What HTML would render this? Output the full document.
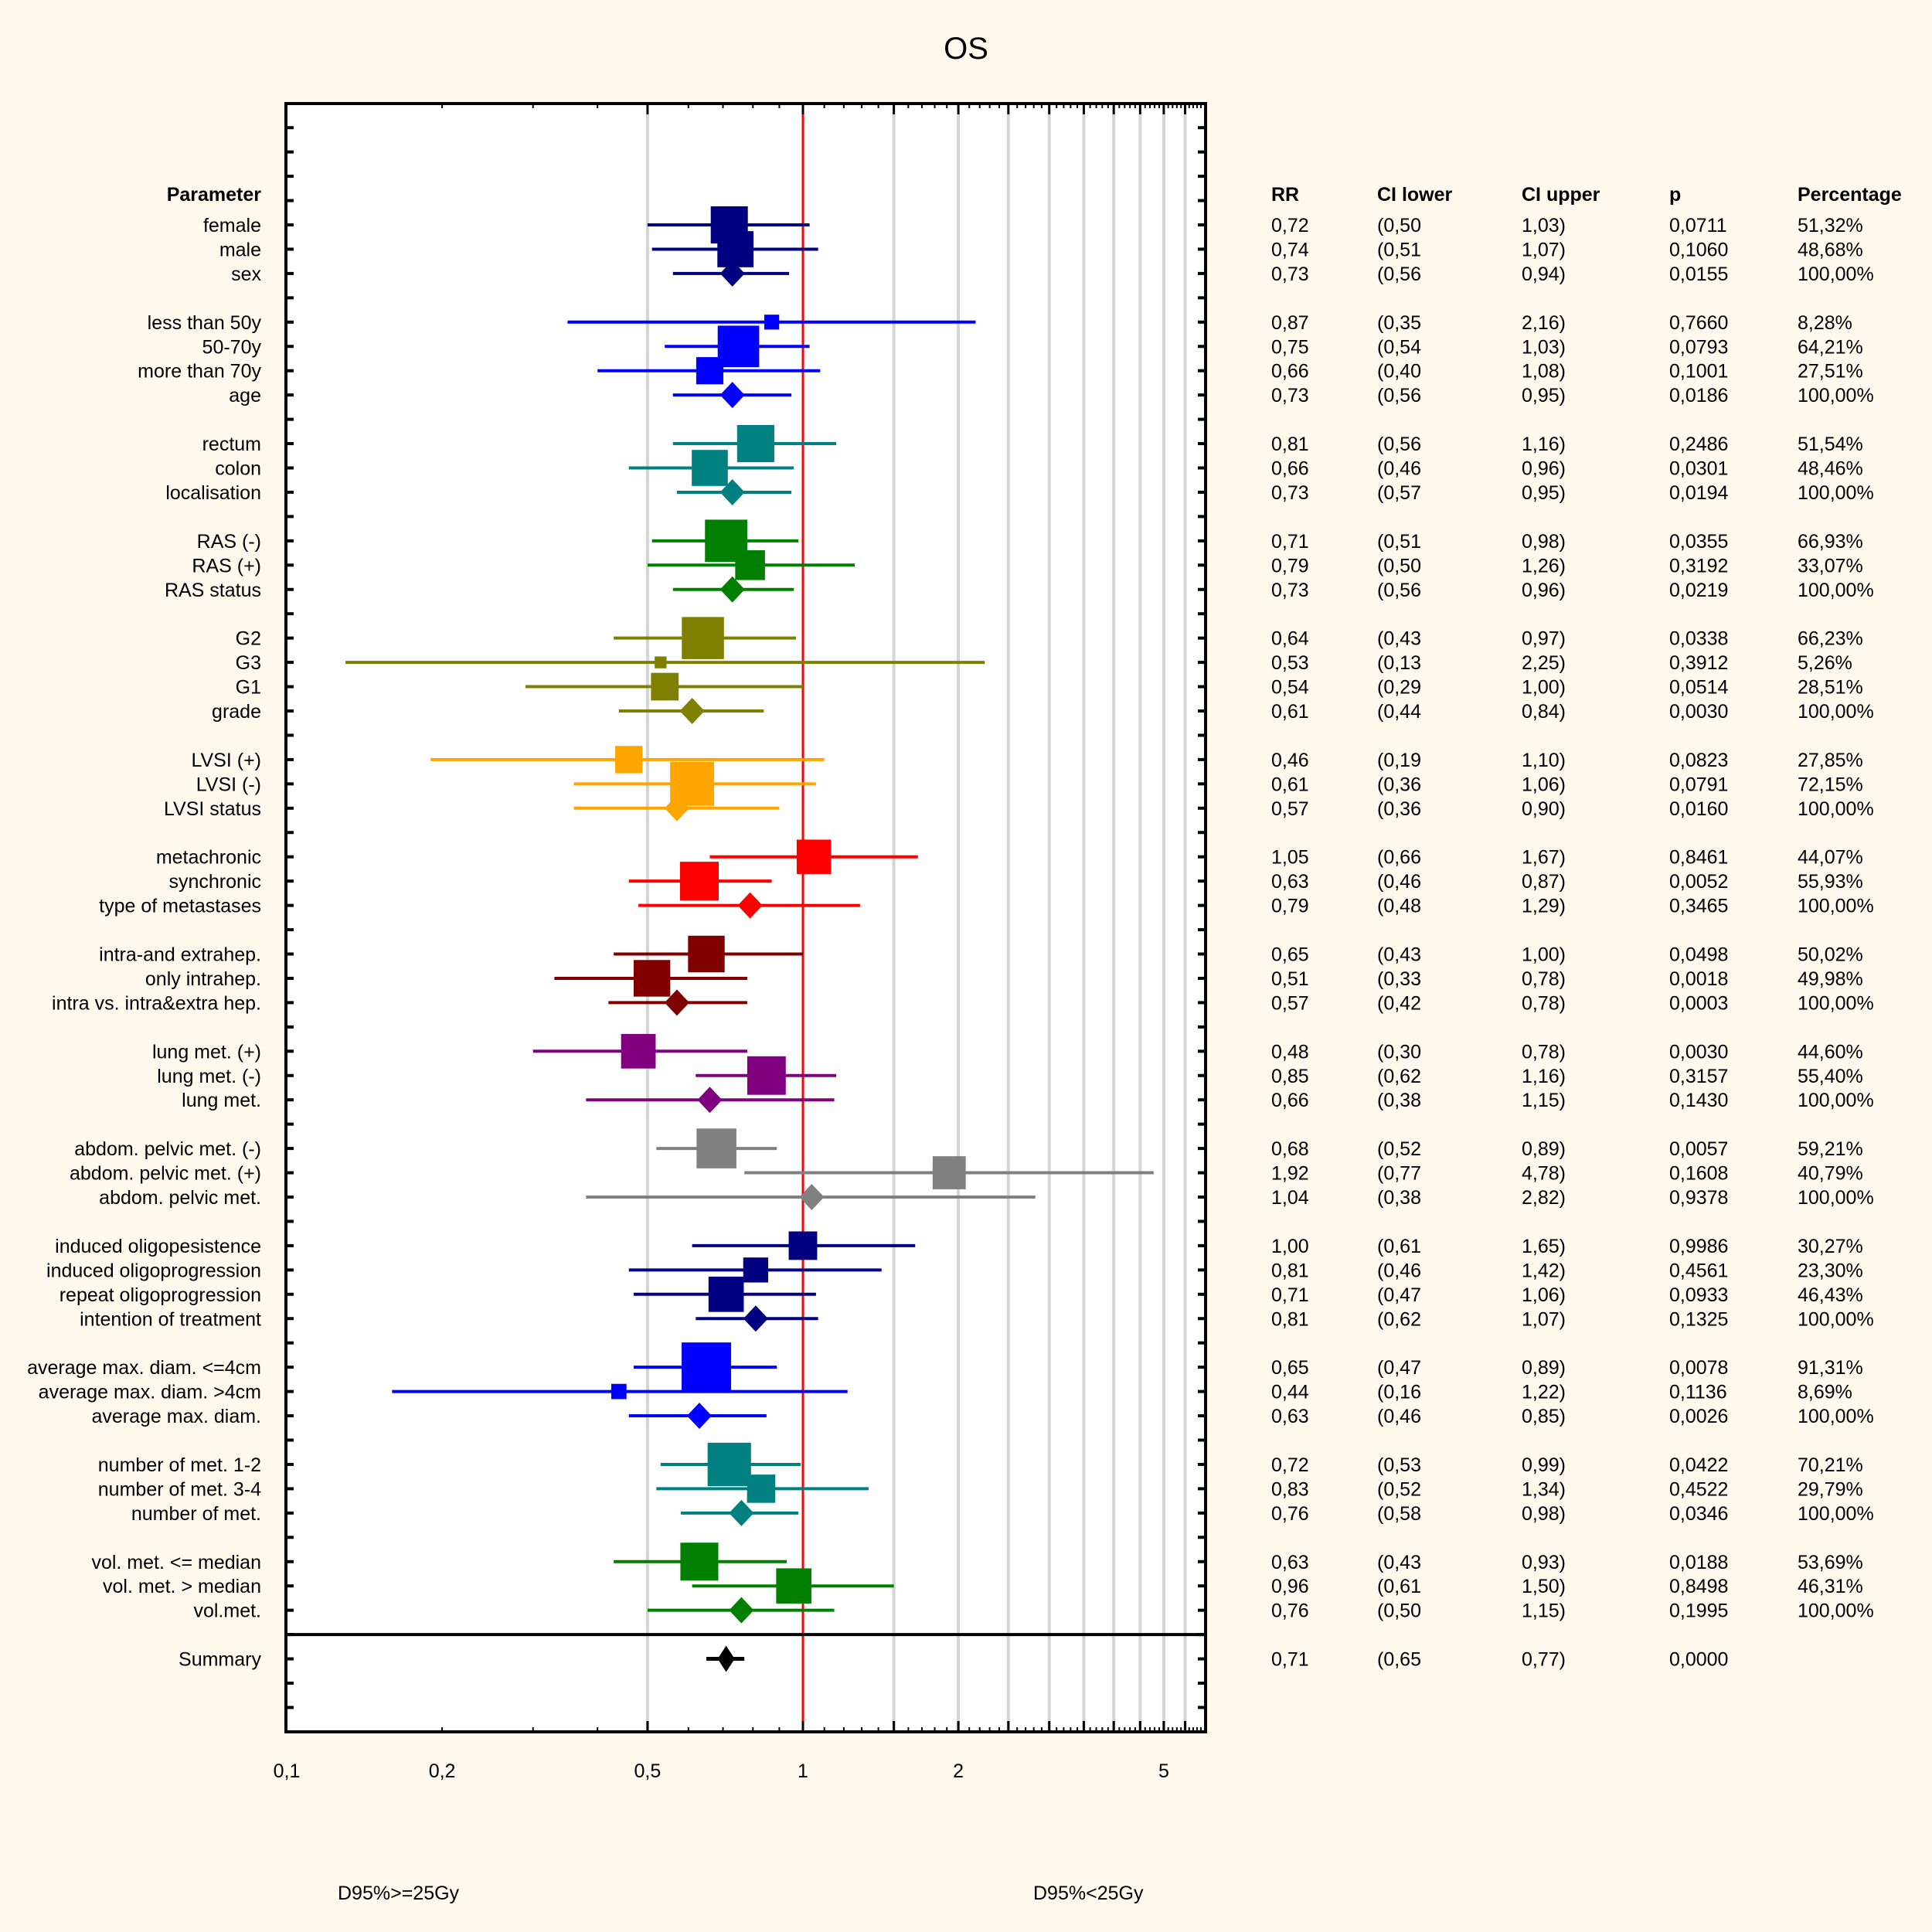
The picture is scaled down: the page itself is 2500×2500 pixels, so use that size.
<!DOCTYPE html>
<html><head><meta charset="utf-8">
<style>
html,body{margin:0;padding:0;background:#fef9ec;}
svg{display:block;font-family:"Liberation Sans",Arial,sans-serif;}
</style></head>
<body>
<svg id="chart" width="2500" height="2500" viewBox="0 0 2500 2500" xmlns="http://www.w3.org/2000/svg">
<rect x="0" y="0" width="2500" height="2500" fill="#fef9ec"/>
<text x="1250" y="76" font-size="40" text-anchor="middle">OS</text>
<rect x="370" y="134" width="1190" height="2107" fill="#ffffff"/>
<g id="grid"></g>
<g id="marks"></g>
<g id="axes"></g>
<g id="texts"></g>
<text x="437" y="2458" font-size="25">D95%&gt;=25Gy</text>
<text x="1337" y="2458" font-size="25">D95%&lt;25Gy</text>
</svg>
<script>
const labels = ["female","male","sex",null,"less than 50y","50-70y","more than 70y","age",null,"rectum","colon","localisation",null,"RAS (-)","RAS (+)","RAS status",null,"G2","G3","G1","grade",null,"LVSI (+)","LVSI (-)","LVSI status",null,"metachronic","synchronic","type of metastases",null,"intra-and extrahep.","only intrahep.","intra vs. intra&extra hep.",null,"lung met. (+)","lung met. (-)","lung met.",null,"abdom. pelvic met. (-)","abdom. pelvic met. (+)","abdom. pelvic met.",null,"induced oligopesistence","induced oligoprogression","repeat oligoprogression","intention of treatment",null,"average max. diam. <=4cm","average max. diam. >4cm","average max. diam.",null,"number of met. 1-2","number of met. 3-4","number of met.",null,"vol. met. <= median","vol. met. > median","vol.met."];
const rr = [0.72,0.74,0.73,null,0.87,0.75,0.66,0.73,null,0.81,0.66,0.73,null,0.71,0.79,0.73,null,0.64,0.53,0.54,0.61,null,0.46,0.61,0.57,null,1.05,0.63,0.79,null,0.65,0.51,0.57,null,0.48,0.85,0.66,null,0.68,1.92,1.04,null,1.00,0.81,0.71,0.81,null,0.65,0.44,0.63,null,0.72,0.83,0.76,null,0.63,0.96,0.76];
const ciLower = [0.50,0.51,0.56,null,0.35,0.54,0.40,0.56,null,0.56,0.46,0.57,null,0.51,0.50,0.56,null,0.43,0.13,0.29,0.44,null,0.19,0.36,0.36,null,0.66,0.46,0.48,null,0.43,0.33,0.42,null,0.30,0.62,0.38,null,0.52,0.77,0.38,null,0.61,0.46,0.47,0.62,null,0.47,0.16,0.46,null,0.53,0.52,0.58,null,0.43,0.61,0.50];
const ciUpper = [1.03,1.07,0.94,null,2.16,1.03,1.08,0.95,null,1.16,0.96,0.95,null,0.98,1.26,0.96,null,0.97,2.25,1.00,0.84,null,1.10,1.06,0.90,null,1.67,0.87,1.29,null,1.00,0.78,0.78,null,0.78,1.16,1.15,null,0.89,4.78,2.82,null,1.65,1.42,1.06,1.07,null,0.89,1.22,0.85,null,0.99,1.34,0.98,null,0.93,1.50,1.15];
const pValues = ["0,0711","0,1060","0,0155",null,"0,7660","0,0793","0,1001","0,0186",null,"0,2486","0,0301","0,0194",null,"0,0355","0,3192","0,0219",null,"0,0338","0,3912","0,0514","0,0030",null,"0,0823","0,0791","0,0160",null,"0,8461","0,0052","0,3465",null,"0,0498","0,0018","0,0003",null,"0,0030","0,3157","0,1430",null,"0,0057","0,1608","0,9378",null,"0,9986","0,4561","0,0933","0,1325",null,"0,0078","0,1136","0,0026",null,"0,0422","0,4522","0,0346",null,"0,0188","0,8498","0,1995"];
const percentage = [51.32,48.68,100,null,8.28,64.21,27.51,100,null,51.54,48.46,100,null,66.93,33.07,100,null,66.23,5.26,28.51,100,null,27.85,72.15,100,null,44.07,55.93,100,null,50.02,49.98,100,null,44.60,55.40,100,null,59.21,40.79,100,null,30.27,23.30,46.43,100,null,91.31,8.69,100,null,70.21,29.79,100,null,53.69,46.31,100];
const groupColors = ["#000080","#0000ff","#008080","#008000","#808000","#ffa500","#ff0000","#800000","#800080","#808080","#000080","#0000ff","#008080","#008000"];
const summary = {label:"Summary", rr:0.71, lo:0.65, hi:0.77, p:"0,0000"};
const xTickValues = [0.1,0.2,0.5,1,2,5];
const xTickLabels = ["0,1","0,2","0,5","1","2","5"];

const NS="http://www.w3.org/2000/svg";
const L=370,R=1560,T=134,B=2241;
const X0=1039, DEC=668;
function xs(v){return X0+DEC*Math.log10(v);}
const ROW0=291, RSTEP=31.45;
function ys(i){return ROW0+i*RSTEP;}
function mk(tag,attrs,parent){const e=document.createElementNS(NS,tag);for(const k in attrs)e.setAttribute(k,attrs[k]);parent.appendChild(e);return e;}
function fmt(v){return v.toFixed(2).replace('.',',');}
const grid=document.getElementById('grid'),marks=document.getElementById('marks'),axes=document.getElementById('axes'),texts=document.getElementById('texts');
const FS=25;

const gv=[0.5,1.5,2,2.5,3,3.5,4,4.5,5,5.5];
gv.forEach(v=>{const l=mk('line',{x1:xs(v),x2:xs(v),y1:148,y2:B,stroke:'#d4d4d4','stroke-width':4},grid);

});
const ref=mk('line',{x1:xs(1),x2:xs(1),y1:146,y2:B,stroke:'#ff0000','stroke-width':3},grid);



let g=0;
for(let i=0;i<labels.length;i++){
  if(labels[i]===null){g++;continue;}
  const col=groupColors[g];
  const y=ys(i);
  const isTotal=(i+1>=labels.length)||labels[i+1]===null;
  const ci=mk('line',{x1:xs(ciLower[i]),x2:xs(ciUpper[i]),y1:y,y2:y,stroke:col,'stroke-width':4},marks);
  
  
  const cx=xs(rr[i]);
  if(isTotal){
    const d=mk('polygon',{points:`${cx-16},${y} ${cx},${y-17} ${cx+16},${y} ${cx},${y+17}`,fill:col},marks);
    
    
  } else {
    const s=6.7*Math.sqrt(percentage[i]);
    const r=mk('rect',{x:cx-s/2,y:y-s/2,width:s,height:s,fill:col},marks);
    
    
  }
}
const sy=ys(labels.length+1);
const sl=mk('line',{x1:xs(summary.lo),x2:xs(summary.hi),y1:sy,y2:sy,stroke:'#000','stroke-width':5},marks);


const scx=xs(summary.rr);
const sd=mk('polygon',{points:`${scx-11},${sy} ${scx},${sy-17} ${scx+11},${sy} ${scx},${sy+17}`,fill:'#000'},marks);



const sepY=ys(labels.length);
const sep=mk('line',{x1:L,x2:R,y1:sepY,y2:sepY,stroke:'#000','stroke-width':4},axes);


const box=mk('rect',{x:L,y:T,width:R-L,height:B-T,fill:'none',stroke:'#000','stroke-width':4},axes);


for(let k=-4;k<=61;k++){const y=ys(k);if(y<=T+4||y>=B-4)continue;
  mk('line',{x1:L,x2:L+10,y1:y,y2:y,stroke:'#000','stroke-width':4},axes);
  mk('line',{x1:R-10,x2:R,y1:y,y2:y,stroke:'#000','stroke-width':4},axes);}
const tickVals=[];
for(let m=2;m<=9;m++)tickVals.push(m/10);
for(let m=10;m<=60;m++)tickVals.push(m/10);
tickVals.forEach(v=>{const x=xs(v);if(x>R-3)return;
  const isMaj=Math.abs(v*2-Math.round(v*2))<1e-6 && v>=0.5;
  const h=isMaj?14:6;
  mk('line',{x1:x,x2:x,y1:B,y2:B-h,stroke:'#000','stroke-width':isMaj?3:2},axes);
  mk('line',{x1:x,x2:x,y1:T,y2:T+h,stroke:'#000','stroke-width':isMaj?3:2},axes);});
xTickValues.forEach((v,k)=>{const t=mk('text',{x:xs(v),y:2300,'font-size':FS,'text-anchor':'middle'},axes);t.textContent=xTickLabels[k];
  
  });

const cols=[1645,1782,1969,2160,2326];
const hy=260;
const hdr=mk('text',{x:338,y:hy,'font-size':FS,'font-weight':'bold','text-anchor':'end'},texts);hdr.textContent='Parameter';


["RR","CI lower","CI upper","p","Percentage"].forEach((h,k)=>{const t=mk('text',{x:cols[k],y:hy,'font-size':FS,'font-weight':'bold'},texts);t.textContent=h;
  
  });
function row(y,lab,vals){
  const t=mk('text',{x:338,y:y+9,'font-size':FS,'text-anchor':'end'},texts);t.textContent=lab;
  
  
  vals.forEach((v,k)=>{if(v===null)return;const c=mk('text',{x:cols[k],y:y+9,'font-size':FS},texts);c.textContent=v;
    
    });
}
for(let i=0;i<labels.length;i++){if(labels[i]===null)continue;
  row(ys(i),labels[i],[fmt(rr[i]),'('+fmt(ciLower[i]),fmt(ciUpper[i])+')',pValues[i],percentage[i].toFixed(2).replace('.',',')+'%']);}
row(sy,summary.label,[fmt(summary.rr),'('+fmt(summary.lo),fmt(summary.hi)+')',summary.p,null]);
</script>
</body></html>
